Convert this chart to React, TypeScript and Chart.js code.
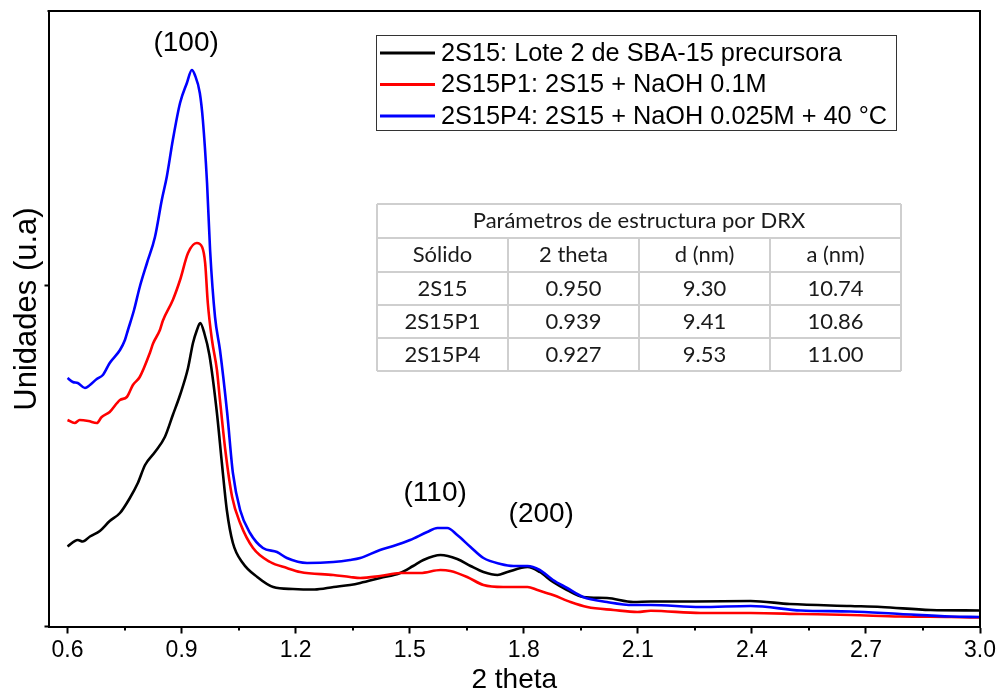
import React, { useEffect, useRef } from "react";
import { Chart, registerables } from "chart.js";

Chart.register(...registerables);

// ---- Data (2 theta, intensity in arbitrary units) ----
const series2S15: [number, number][] = [
  [0.6, 80], [0.627, 86.5], [0.64, 85], [0.659, 90], [0.685, 95.5], [0.711, 105.5], [0.738, 113.5],
  [0.764, 128.5], [0.785, 143.5], [0.804, 161.5], [0.83, 174.5], [0.856, 189.5], [0.877, 211.5],
  [0.896, 231.5], [0.917, 258.5], [0.93, 283.5], [0.94, 296], [0.949, 303.5], [0.96, 293],
  [0.973, 272], [0.993, 213.5], [1.006, 163.5], [1.019, 116.5], [1.035, 83.5], [1.061, 63.5],
  [1.099, 49.5], [1.141, 39.5], [1.193, 37.5], [1.25, 37], [1.3, 39.5], [1.343, 41.5], [1.37, 43.5],
  [1.422, 48.5], [1.475, 53.5], [1.509, 60.5], [1.536, 66.5], [1.581, 71.5], [1.625, 67.5],
  [1.66, 60.5], [1.694, 54.5], [1.731, 51.5], [1.757, 54.5], [1.81, 59.5], [1.842, 54.5],
  [1.877, 44.5], [1.914, 36.5], [1.956, 29.5], [2.019, 28.5], [2.088, 24.5], [2.134, 25],
  [2.25, 25], [2.397, 25.5], [2.5, 22.5], [2.66, 20.5], [2.74, 19.5], [2.87, 16.5], [3.0, 16],
];

const series2S15P1: [number, number][] = [
  [0.6, 206.5], [0.619, 203.5], [0.632, 206.5], [0.655, 205.5], [0.677, 203.5], [0.69, 209.5],
  [0.711, 214.5], [0.738, 226.5], [0.756, 229.5], [0.772, 241.5], [0.79, 249.5], [0.817, 274],
  [0.825, 283], [0.843, 296.5], [0.851, 306], [0.877, 326.5], [0.896, 346.5], [0.917, 373.5],
  [0.94, 383.5], [0.954, 379.5], [0.962, 363.5], [0.969, 323.5], [0.98, 286.5], [0.993, 256.5],
  [1.001, 226.5], [1.015, 176.5], [1.033, 129.5], [1.054, 103.5], [1.088, 78.5], [1.133, 64.5],
  [1.177, 58.5], [1.212, 54.5], [1.299, 51.5], [1.343, 49.5], [1.37, 48.5], [1.422, 50.5],
  [1.475, 53.5], [1.528, 53.5], [1.581, 56.5], [1.607, 55.5], [1.651, 49.5], [1.694, 41.5],
  [1.746, 39.5], [1.81, 39.5], [1.836, 36.5], [1.877, 31.5], [1.923, 24.5], [1.967, 19.5],
  [2.036, 16.5], [2.099, 14.5], [2.134, 15.8], [2.265, 13.5], [2.397, 13.5], [2.529, 12.5],
  [2.66, 11.5], [2.79, 10], [2.924, 9.5], [3.0, 9],
];

const series2S15P4: [number, number][] = [
  [0.6, 248.5], [0.614, 244.5], [0.627, 243.5], [0.646, 238.5], [0.659, 241.5], [0.677, 247.5],
  [0.693, 251.5], [0.711, 263.5], [0.738, 276.5], [0.751, 286.5], [0.759, 296.5], [0.775, 316.5],
  [0.79, 339.5], [0.809, 363.5], [0.83, 389.5], [0.848, 426.5], [0.861, 449.5], [0.877, 486.5],
  [0.896, 523.5], [0.914, 543.5], [0.927, 556.5], [0.935, 551.5], [0.948, 533.5], [0.956, 506.5],
  [0.967, 443.5], [0.975, 376.5], [0.988, 309.5], [1.001, 276.5], [1.02, 213.5], [1.035, 153.5],
  [1.054, 116.5], [1.08, 93.5], [1.114, 78.5], [1.151, 74.5], [1.177, 68.5], [1.23, 63.5],
  [1.299, 64.5], [1.343, 66.5], [1.37, 68.5], [1.422, 76.5], [1.457, 80.5], [1.501, 86.5],
  [1.546, 94.5], [1.573, 98.5], [1.599, 98.5], [1.625, 91.5], [1.66, 79.5], [1.694, 68.5],
  [1.739, 62.5], [1.773, 60.5], [1.81, 60.5], [1.842, 56.5], [1.877, 46.5], [1.914, 38.5],
  [1.956, 29.5], [2.019, 24.5], [2.088, 21.5], [2.134, 21.5], [2.265, 19.5], [2.397, 20.5],
  [2.529, 16], [2.66, 15], [2.79, 12.5], [2.924, 10], [3.0, 9.5],
];

const seriesLabels = [
  "2S15: Lote 2 de SBA-15 precursora",
  "2S15P1: 2S15 + NaOH 0.1M",
  "2S15P4: 2S15 + NaOH 0.025M + 40 °C",
];
const seriesColors = ["#000000", "#ff0000", "#0000ff"];

const xMajorTicks = [0.6, 0.9, 1.2, 1.5, 1.8, 2.1, 2.4, 2.7, 3.0];
const xMinorTicks = [0.75, 1.05, 1.35, 1.65, 1.95, 2.25, 2.55, 2.85];
const yTicks = [0, 341.5];

const xTitle = "2 theta";
const yTitle = "Unidades (u.a)";

const peakLabels = ["(100)", "(110)", "(200)"];
const peakLabelX = [0.912, 1.567, 1.846];
const peakLabelY = [583.5, 133.5, 112.5];

const tableTitle = "Parámetros de estructura por DRX";
const tableHeader = ["Sólido", "2 theta", "d (nm)", "a (nm)"];
const tableSolids = ["2S15", "2S15P1", "2S15P4"];
const tableTwoTheta = ["0.950", "0.939", "0.927"];
const tableD = ["9.30", "9.41", "9.53"];
const tableA = ["10.74", "10.86", "11.00"];

const ARIAL = '"Liberation Sans", Arial, sans-serif';
const CALIBRI = 'Lato, "Open Sans", sans-serif';

const decorPlugin = {
  id: "decor",
  afterDraw(chart: any) {
    const { ctx, chartArea: a, scales } = chart;
    const xs = scales.x;
    const ys = scales.y;
    ctx.save();
    // frame top & right
    ctx.strokeStyle = "#000";
    ctx.lineWidth = 2;
    ctx.beginPath();
    ctx.moveTo(a.left - 1, a.top);
    ctx.lineTo(a.right, a.top);
    ctx.lineTo(a.right, a.bottom);
    ctx.stroke();
    // minor x ticks
    for (const v of xMinorTicks) {
      const px = Math.round(xs.getPixelForValue(v));
      ctx.beginPath();
      ctx.moveTo(px, a.bottom);
      ctx.lineTo(px, a.bottom + 4);
      ctx.stroke();
    }
    // y axis title
    ctx.save();
    ctx.translate(27, 309);
    ctx.rotate(-Math.PI / 2);
    ctx.fillStyle = "#000";
    ctx.font = `31px ${ARIAL}`;
    ctx.textAlign = "center";
    ctx.textBaseline = "middle";
    ctx.fillText(yTitle, 0, 0);
    ctx.restore();

    // peak labels
    ctx.fillStyle = "#000";
    ctx.font = `28px ${ARIAL}`;
    ctx.textAlign = "center";
    ctx.textBaseline = "middle";
    peakLabels.forEach((t, i) => {
      ctx.fillText(t, xs.getPixelForValue(peakLabelX[i]), ys.getPixelForValue(peakLabelY[i]));
    });

    // legend
    const lx = 376.5, ly = 35.5, lw = 520, lh = 95;
    ctx.fillStyle = "#fff";
    ctx.fillRect(lx, ly, lw, lh);
    ctx.strokeStyle = "#333";
    ctx.lineWidth = 1;
    ctx.strokeRect(lx, ly, lw, lh);
    ctx.font = `25.3px ${ARIAL}`;
    ctx.textAlign = "left";
    seriesLabels.forEach((t, i) => {
      const cy = 53 + i * 31.5;
      ctx.strokeStyle = seriesColors[i];
      ctx.lineWidth = 3;
      ctx.beginPath();
      ctx.moveTo(380, cy);
      ctx.lineTo(435, cy);
      ctx.stroke();
      ctx.fillStyle = "#000";
      ctx.fillText(t, 441, cy + 1);
    });

    // table
    const cols = [377, 508, 639, 770, 901];
    const rows = [204, 238, 272, 305, 338, 371];
    ctx.fillStyle = "#fff";
    ctx.fillRect(cols[0], rows[0], cols[4] - cols[0], rows[5] - rows[0]);
    ctx.strokeStyle = "#cfcfcf";
    ctx.lineWidth = 2;
    ctx.beginPath();
    rows.forEach((y) => {
      ctx.moveTo(cols[0], y);
      ctx.lineTo(cols[4], y);
    });
    ctx.moveTo(cols[0], rows[0]);
    ctx.lineTo(cols[0], rows[5]);
    ctx.moveTo(cols[4], rows[0]);
    ctx.lineTo(cols[4], rows[5]);
    for (let c = 1; c < 4; c++) {
      ctx.moveTo(cols[c], rows[1]);
      ctx.lineTo(cols[c], rows[5]);
    }
    ctx.stroke();
    ctx.fillStyle = "#1a1a1a";
    ctx.font = `22px ${CALIBRI}`;
    ctx.textAlign = "center";
    ctx.textBaseline = "middle";
    ctx.fillText(tableTitle, (cols[0] + cols[4]) / 2, (rows[0] + rows[1]) / 2);
    const body = [tableHeader];
    tableSolids.forEach((s, i) => body.push([s, tableTwoTheta[i], tableD[i], tableA[i]]));
    body.forEach((r, ri) => {
      r.forEach((t, ci) => {
        ctx.fillText(t, (cols[ci] + cols[ci + 1]) / 2, (rows[ri + 1] + rows[ri + 2]) / 2);
      });
    });
    ctx.restore();
  },
};

export default function App() {
  const canvasRef = useRef<HTMLCanvasElement | null>(null);

  useEffect(() => {
    document.body.style.margin = "0";
    const canvas = canvasRef.current;
    if (!canvas) return;
    const toPts = (s: [number, number][]) => s.map(([x, y]) => ({ x, y }));
    const allSeries = [series2S15, series2S15P1, series2S15P4];
    const chart = new Chart(canvas, {
      type: "line",
      data: {
        datasets: allSeries.map((s, i) => ({
          label: seriesLabels[i],
          data: toPts(s),
          borderColor: seriesColors[i],
          backgroundColor: seriesColors[i],
          borderWidth: 2.6,
          pointRadius: 0,
          cubicInterpolationMode: "monotone" as const,
          order: 2 - i,
        })),
      },
      options: {
        animation: false,
        responsive: false,
        devicePixelRatio: 1,
        layout: { padding: { top: 11, right: 20, left: 0, bottom: 0 } },
        plugins: { legend: { display: false }, tooltip: { enabled: false } },
        scales: {
          x: {
            type: "linear",
            min: 0.55,
            max: 3.0,
            afterBuildTicks: (s: any) => {
              s.ticks = xMajorTicks.map((v) => ({ value: v }));
            },
            afterFit: (s: any) => {
              s.height = 67.5;
            },
            ticks: {
              color: "#000",
              font: { family: ARIAL, size: 23 },
              padding: 3,
              maxRotation: 0,
              autoSkip: false,
              callback: (v: any) => Number(v).toFixed(1),
            },
            grid: { drawOnChartArea: false, drawTicks: true, tickLength: 7, tickWidth: 2, tickColor: "#000" },
            border: { display: true, color: "#000", width: 2 },
            title: {
              display: true,
              text: xTitle,
              color: "#000",
              font: { family: ARIAL, size: 28, lineHeight: 1 },
              padding: 0,
            },
          },
          y: {
            type: "linear",
            min: 0,
            max: 615.5,
            afterBuildTicks: (s: any) => {
              s.ticks = yTicks.map((v) => ({ value: v }));
            },
            afterFit: (s: any) => {
              s.width = 48.5;
            },
            ticks: { callback: () => "", font: { size: 10 } },
            grid: { drawOnChartArea: false, drawTicks: true, tickLength: 4, tickWidth: 2, tickColor: "#000" },
            border: { display: true, color: "#000", width: 2 },
          },
        },
      },
      plugins: [decorPlugin],
    });
    return () => chart.destroy();
  }, []);

  return (
    <div style={{ width: 1000, height: 694, position: "relative", background: "#fff" }}>
      <canvas ref={canvasRef} width={1000} height={694} style={{ display: "block" }} />
    </div>
  );
}
